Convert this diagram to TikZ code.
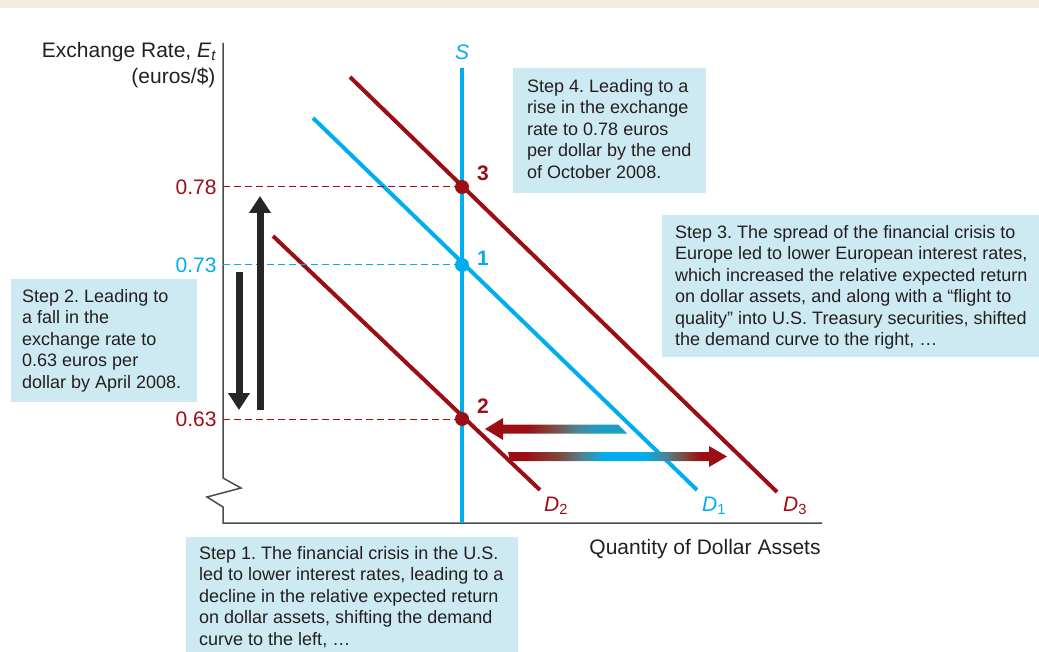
\documentclass[tikz,border=0pt]{standalone}
\usepackage{fontspec}
\setmainfont{Liberation Sans}
\usepackage{xcolor}
\usepackage{tikz}
\usetikzlibrary{arrows.meta,positioning}
\frenchspacing

\definecolor{dred}{HTML}{9B0F14}
\definecolor{sblue}{HTML}{00AEEF}
\definecolor{gblue}{HTML}{1B9DC4}
\definecolor{brownmix}{HTML}{7E4B40}
\definecolor{tealmix}{HTML}{4D8494}
\definecolor{boxblue}{HTML}{CDEAF2}
\definecolor{band}{HTML}{F3ECDD}
\definecolor{txt}{HTML}{231F20}

\pgfdeclarehorizontalshading{leftshade}{100bp}{color(0bp)=(dred); color(25bp)=(dred); color(40bp)=(dred); color(49bp)=(brownmix); color(57bp)=(tealmix); color(65bp)=(gblue); color(100bp)=(gblue)}
\pgfdeclarehorizontalshading{rightshade}{100bp}{color(0bp)=(dred); color(29bp)=(dred); color(37bp)=(brownmix); color(42bp)=(tealmix); color(47bp)=(sblue); color(56bp)=(sblue); color(61bp)=(tealmix); color(65bp)=(brownmix); color(69bp)=(dred); color(100bp)=(dred)}

\begin{document}
\begin{tikzpicture}[x=1pt, y=-1pt,
    every node/.style={text=txt, font=\fontsize{21}{24}\selectfont},
    axis/.style={draw=black!70, line width=1.5pt},
    dline/.style={line width=4pt},
    guide/.style={dashed, line width=1pt, dash pattern=on 7pt off 4pt},
    dot/.style={circle, minimum size=14pt, inner sep=0pt},
    num/.style={font=\fontsize{21}{24}\selectfont\bfseries},
    tick/.style={anchor=east},
    stepbox/.style={anchor=north west, fill=boxblue, inner sep=0pt},
    steptext/.style={align=left, inner sep=0pt, font=\fontsize{18}{21.5}\selectfont},
    bigarr/.style={line width=7pt, black!85, -{Triangle[width=21pt,length=17pt]}}
]
    \useasboundingbox (0,0) rectangle (1039,652);
    \fill[band] (0,0) rectangle (1039,8);

    \draw[axis] (223,43) -- (223,478) -- (241,488) -- (207,497) -- (223,507) -- (223,523) -- (822,523);
    \node[anchor=east] (ylab) at (220,52) {Exchange Rate, \textit{E}\textsubscript{\textit{t}}};
    \node[anchor=east] (yunit) at (219,78) {(euros/\$)};
    \node (xlab) at (705,549) {Quantity of Dollar Assets};

    \coordinate (t78) at (223,187);
    \coordinate (t73) at (223,265);
    \coordinate (t63) at (223,419);
    \node[tick, text=dred] (l78) at (220,187) {0.78};
    \node[tick, text=sblue] (l73) at (220,265) {0.73};
    \node[tick, text=dred] (l63) at (220,419) {0.63};

    \coordinate (stop) at (462,68);
    \coordinate (sbot) at (462,523);
    \draw[dline, sblue] (stop) -- (sbot);
    \node[text=sblue] (slab) at (462,52) {\itshape S};

    \coordinate (d1a) at (313,118);
    \coordinate (d1b) at (697,490);
    \coordinate (d2a) at (273,236);
    \coordinate (d2b) at (540,490);
    \coordinate (d3a) at (350,77);
    \coordinate (d3b) at (777,492);
    \draw[dline, sblue] (d1a) -- (d1b);
    \draw[dline, dred] (d2a) -- (d2b);
    \draw[dline, dred] (d3a) -- (d3b);
    \node[text=dred] (d2lab) at (556,506) {\itshape D\textsubscript{\upshape 2}};
    \node[text=sblue] (d1lab) at (714,506) {\itshape D\textsubscript{\upshape 1}};
    \node[text=dred] (d3lab) at (795,506) {\itshape D\textsubscript{\upshape 3}};

    \node[dot, fill=dred] (p3) at (462,187) {};
    \node[dot, fill=sblue] (p1) at (462,265) {};
    \node[dot, fill=dred] (p2) at (462,419) {};
    \node[num, text=dred] (n3) at (483,173) {3};
    \node[num, text=sblue] (n1) at (483,258) {1};
    \node[num, text=dred] (n2) at (483,406) {2};

    \draw[guide, dred] (t78) -- (p3);
    \draw[guide, sblue] (t73) -- (p1);
    \draw[guide, dred] (t63) -- (p2);

    \coordinate (upa) at (260,410);
    \coordinate (upb) at (260,196);
    \coordinate (dna) at (239,272);
    \coordinate (dnb) at (239,410);
    \draw[bigarr] (upa) -- (upb);
    \draw[bigarr] (dna) -- (dnb);

    \shade[shading=leftshade] (627,433.5) -- (503,433.5) -- (503,440) -- (485,429) -- (503,418) -- (503,424.5) -- (618,424.5) -- cycle;
    \shade[shading=rightshade] (508,452) -- (709,452) -- (709,446) -- (727,456.5) -- (709,467) -- (709,461) -- (510,461) -- cycle;

    \node[stepbox, minimum width=193pt, minimum height=125pt] (s4) at (513,68) {};
    \node[steptext, below right=11pt and 14pt of s4.north west] (s4t) {Step 4. Leading to a\\ rise in the exchange\\ rate to 0.78 euros\\ per dollar by the end\\ of October 2008.};
    \node[stepbox, minimum width=377pt, minimum height=142pt] (s3) at (662,215) {};
    \node[steptext, below right=10pt and 13pt of s3.north west] (s3t) {Step 3. The spread of the financial crisis to\\ Europe led to lower European interest rates,\\ which increased the relative expected return\\ on dollar assets, and along with a “flight to\\ quality” into U.S. Treasury securities, shifted\\ the demand curve to the right, …};
    \node[stepbox, minimum width=186pt, minimum height=123pt] (s2) at (11,279) {};
    \node[steptext, below right=10pt and 11pt of s2.north west] (s2t) {Step 2. Leading to\\ a fall in the\\ exchange rate to\\ 0.63 euros per\\ dollar by April 2008.};
    \node[stepbox, minimum width=332pt, minimum height=115pt] (s1) at (186,537) {};
    \node[steptext, below right=9pt and 13pt of s1.north west] (s1t) {Step 1. The financial crisis in the U.S.\\ led to lower interest rates, leading to a\\ decline in the relative expected return\\ on dollar assets, shifting the demand\\ curve to the left, …};
\end{tikzpicture}
\end{document}
